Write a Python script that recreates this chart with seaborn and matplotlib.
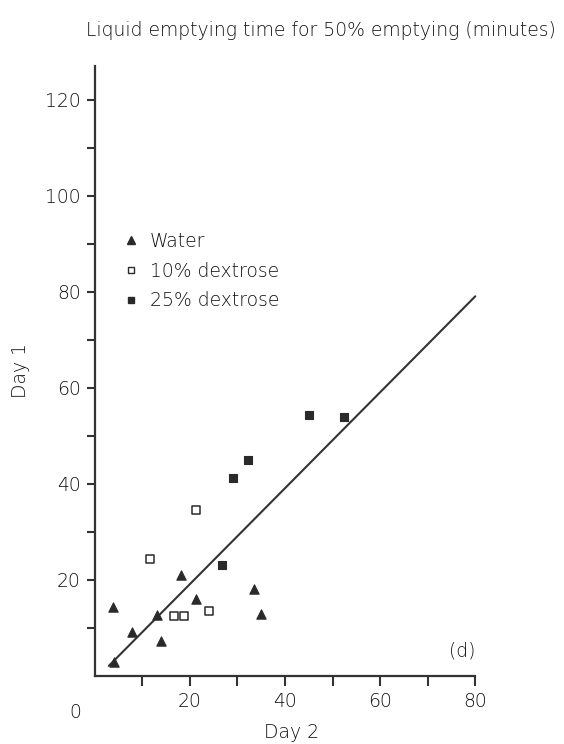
import matplotlib
matplotlib.use("Agg")
import matplotlib.pyplot as plt
from matplotlib.lines import Line2D
import seaborn as sns
import pandas as pd

# ---- data ----
water_day2 = [3.8, 7.8, 13.2, 14.0, 18.2, 21.4, 33.6, 34.9, 4.1]
water_day1 = [14.2, 9.1, 12.7, 7.2, 21.0, 16.0, 18.0, 12.8, 2.9]
d10_day2 = [21.4, 11.7, 16.6, 18.9, 24.0]
d10_day1 = [34.5, 24.3, 12.5, 12.5, 13.4]
d25_day2 = [26.8, 29.1, 32.2, 45.0, 52.5]
d25_day1 = [23.1, 41.2, 44.9, 54.3, 53.8]
line_day2 = [3.0, 80.0]
line_day1 = [2.0, 79.0]
group_labels = ["Water", "10% dextrose", "25% dextrose"]
x_ticklabels = ["20", "40", "60", "80"]
y_ticklabels = ["20", "40", "60", "80", "100", "120"]

sns.set_style("ticks")
FONT = ["DejaVu Sans"]
plt.rcParams["font.family"] = FONT
plt.rcParams["font.weight"] = "light"
INK = "#333333"
TXT = "#111111"
MARK = "#2a2a2a"
FS = 13.5

df = pd.concat([
    pd.DataFrame({"day2": water_day2, "day1": water_day1, "group": group_labels[0]}),
    pd.DataFrame({"day2": d10_day2, "day1": d10_day1, "group": group_labels[1]}),
    pd.DataFrame({"day2": d25_day2, "day1": d25_day1, "group": group_labels[2]}),
], ignore_index=True)

W, H = 564, 744
fig = plt.figure(figsize=(W / 100, H / 100), dpi=100)
ax = fig.add_axes([94.5 / W, (H - 675.5) / H, 98 * 4.76 / W, 127 * 4.8 / H])

sns.lineplot(x=line_day2, y=line_day1, ax=ax, color=INK, lw=1.5)
sns.scatterplot(data=df[df.group == group_labels[0]], x="day2", y="day1", ax=ax,
                marker="^", s=45, color=MARK, edgecolor=MARK, linewidth=0.8, legend=False, zorder=3)
sns.scatterplot(data=df[df.group == group_labels[1]], x="day2", y="day1", ax=ax,
                marker="s", s=36, facecolor="white", edgecolor=MARK, linewidth=1.1, legend=False, zorder=3)
sns.scatterplot(data=df[df.group == group_labels[2]], x="day2", y="day1", ax=ax,
                marker="s", s=36, color=MARK, edgecolor=MARK, linewidth=0.8, legend=False, zorder=3)

ax.set_xlim(0, 98)
ax.set_ylim(0, 127)
sns.despine(ax=ax)
ax.spines["bottom"].set_bounds(0, 80)
for sp in ("left", "bottom"):
    ax.spines[sp].set_linewidth(1.6)
    ax.spines[sp].set_color(INK)

ax.set_xticks(range(10, 81, 10))
ax.set_xticklabels(["" if v % 20 else x_ticklabels[v // 20 - 1] for v in range(10, 81, 10)])
ax.set_yticks(range(10, 121, 10))
ax.set_yticklabels(["" if v % 20 else y_ticklabels[v // 20 - 1] for v in range(10, 121, 10)])
ax.tick_params(axis="x", length=7, width=1.5, pad=5, colors=INK, labelcolor=TXT, labelsize=FS)
ax.tick_params(axis="y", length=6, width=1.5, pad=4, colors=INK, labelcolor=TXT, labelsize=FS)
ax.set_xlabel("")
ax.set_ylabel("")

# origin label, axis titles, panel label
fig.text(75.6 / W, 1 - 713 / H, "0", ha="center", va="center", fontsize=FS, color=TXT)
fig.text(292 / W, 1 - 732 / H, "Day 2", ha="center", va="center", fontsize=FS, color=TXT)
fig.text(20.5 / W, 1 - 370 / H, "Day 1", ha="center", va="center", rotation=90, fontsize=FS, color=TXT)
fig.text(321 / W, 1 - 30 / H, "Liquid emptying time for 50% emptying (minutes)",
         ha="center", va="center", fontsize=FS, color=TXT)
ax.text(77.3, 5.2, "(d)", ha="center", va="center", fontsize=FS, color=TXT)

handles = [
    Line2D([], [], ls="none", marker="^", ms=5.5, color=MARK),
    Line2D([], [], ls="none", marker="s", ms=5, markerfacecolor="white", markeredgecolor=MARK, mew=1.0),
    Line2D([], [], ls="none", marker="s", ms=5, color=MARK),
]
leg = ax.legend(handles, group_labels, loc="upper left",
                bbox_to_anchor=(121.7 / W, 1 - 232 / H), bbox_transform=fig.transFigure,
                frameon=False, borderpad=0, borderaxespad=0, handlelength=1.0,
                handletextpad=0.5, labelspacing=0.57, fontsize=FS)
for t in leg.get_texts():
    t.set_color(TXT)

fig.savefig("out.png", dpi=100)
